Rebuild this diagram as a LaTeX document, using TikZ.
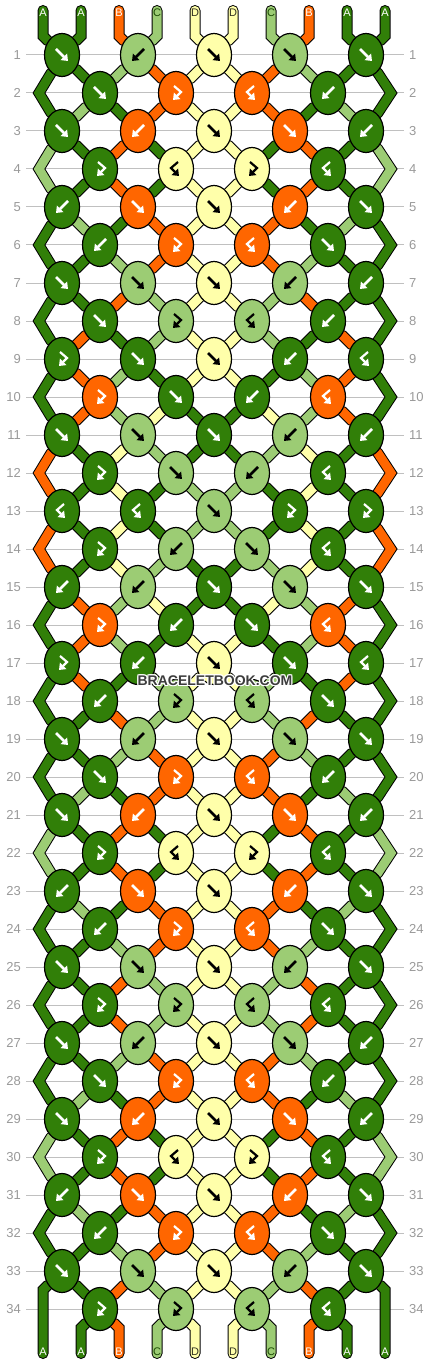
\documentclass[tikz,border=0pt]{standalone}
\usepackage{fontspec}
\setmainfont{Liberation Sans}
\usetikzlibrary{arrows.meta,shapes.geometric,backgrounds}

\definecolor{thrA}{HTML}{317F08}
\definecolor{thrB}{HTML}{FF6600}
\definecolor{thrC}{HTML}{9CCC74}
\definecolor{thrD}{HTML}{FFFFAA}
\definecolor{rowgray}{HTML}{999999}
\definecolor{linegray}{HTML}{C0C0C0}
\definecolor{markgray}{HTML}{3C3C3C}
\colorlet{symA}{white}
\colorlet{symB}{white}
\colorlet{symC}{black}
\colorlet{symD}{black}
\colorlet{labA}{white}
\colorlet{labB}{white}
\colorlet{labC}{thrA!60!black}
\colorlet{labD}{black!80!thrD}

\tikzset{
  knot/.style={ellipse, draw=black, line width=1.2pt, minimum width=35pt, minimum height=43pt, inner sep=0pt},
  strand/.style={draw=black, line width=1pt, double=#1, double distance=9pt, line cap=round, line join=miter},
  arrowline/.style={line width=2.6pt, -{Triangle[length=6pt,width=9pt]}},
  rowline/.style={draw=linegray, line width=1pt},
  rownum/.style={text=rowgray, font=\fontsize{13}{13}\selectfont, inner sep=0pt},
  lab/.style={font=\fontsize{11}{11}\selectfont, inner sep=0pt},
  wmark/.style={font=\bfseries\fontsize{14}{14}\selectfont, inner sep=0pt},
  % knot symbols: forward, backward, forward-backward, backward-forward
  symf/.pic={\draw[arrowline] (-6,-6) -- (6,6);},
  symb/.pic={\draw[arrowline] (6,-6) -- (-6,6);},
  symF/.pic={\draw[arrowline, line join=miter, line width=2.2pt] (-2,-7) -- (5,-1) -- (-3,7);},
  symK/.pic={\draw[arrowline, line join=miter, line width=2.2pt] (2,-7) -- (-5,-1) -- (3,7);}
}

\begin{document}
\begin{tikzpicture}[x=1pt, y=-1pt]
  \useasboundingbox (0,0) rectangle (430,1364);

  % knots, row by row: type/colour
  \foreach \knots [count=\rw] in {
    {f/A,b/C,f/D,f/C,f/A},% 1
    {f/A,F/B,K/B,b/A},
    {f/A,b/B,f/D,f/B,b/A},
    {F/A,K/D,F/D,K/A},
    {b/A,f/B,f/D,b/B,f/A},% 5
    {b/A,F/B,K/B,f/A},
    {f/A,f/C,f/D,b/C,b/A},
    {f/A,F/C,K/C,b/A},
    {F/A,f/A,f/D,b/A,K/A},
    {F/B,f/A,b/A,K/B},% 10
    {f/A,f/C,f/A,b/C,b/A},
    {F/A,f/C,b/C,K/A},
    {K/A,K/A,f/C,F/A,F/A},
    {F/A,b/C,f/C,K/A},
    {b/A,b/C,f/A,f/C,f/A},% 15
    {F/B,b/A,f/A,K/B},
    {F/A,b/A,f/D,f/A,K/A},
    {b/A,F/C,K/C,f/A},
    {f/A,b/C,f/D,f/C,f/A},
    {f/A,F/B,K/B,b/A},% 20
    {f/A,b/B,f/D,f/B,b/A},
    {F/A,K/D,F/D,K/A},
    {b/A,f/B,f/D,b/B,f/A},
    {b/A,F/B,K/B,f/A},
    {f/A,f/C,f/D,b/C,f/A},% 25
    {F/A,F/C,K/C,K/A},
    {f/A,b/C,f/D,f/C,b/A},
    {f/A,F/B,K/B,b/A},
    {f/A,b/B,f/D,f/B,b/A},
    {F/A,K/D,F/D,K/A},% 30
    {b/A,f/B,f/D,b/B,f/A},
    {b/A,F/B,K/B,f/A},
    {f/A,f/C,f/D,b/C,f/A},
    {F/A,F/C,K/C,K/A}% 34
  }{
    \pgfmathtruncatemacro\yy{17+38*\rw}
    \ifodd\rw
      \foreach \kt/\kc [count=\kn] in \knots {
        \node[knot, fill=thr\kc] (k\rw-\kn) at ({76*\kn-14},\yy) {};
        \pic[color=sym\kc] at (k\rw-\kn) {sym\kt};
      }
    \else
      \coordinate (k\rw-0) at (39,\yy);
      \coordinate (k\rw-5) at (391,\yy);
      \foreach \kt/\kc [count=\kn] in \knots {
        \node[knot, fill=thr\kc] (k\rw-\kn) at ({24+76*\kn},\yy) {};
        \pic[color=sym\kc] at (k\rw-\kn) {sym\kt};
      }
    \fi
  }

  \begin{scope}[on background layer]
    % row lines and numbers
    \foreach \rw in {1,...,34}{
      \pgfmathtruncatemacro\yy{17+38*\rw}
      \draw[rowline] (26,\yy) -- (404,\yy);
      \node[rownum, anchor=east] (nl\rw) at (21,\yy) {\rw};
      \node[rownum, anchor=west] (nr\rw) at (409,\yy) {\rw};
    }
    % strings: colours at each position after every row
    \foreach \st [count=\i from 0] in {
      {A,A,B,C,D,D,C,B,A,A},% 0
      {A,A,C,B,D,D,B,C,A,A},
      {A,C,A,B,D,D,B,A,C,A},
      {C,A,B,A,D,D,A,B,A,C},
      {C,A,B,A,D,D,A,B,A,C},
      {A,C,A,B,D,D,B,A,C,A},% 5
      {A,A,C,B,D,D,B,C,A,A},
      {A,A,B,C,D,D,C,B,A,A},
      {A,B,A,C,D,D,C,A,B,A},
      {A,B,C,A,D,D,A,C,B,A},
      {A,B,C,D,A,A,D,C,B,A},% 10
      {B,A,D,C,A,A,C,D,A,B},
      {B,A,D,A,C,C,A,D,A,B},
      {B,A,D,A,C,C,A,D,A,B},
      {B,A,D,C,A,A,C,D,A,B},
      {A,B,C,D,A,A,D,C,B,A},% 15
      {A,B,C,A,D,D,A,C,B,A},
      {A,B,A,C,D,D,C,A,B,A},
      {A,A,B,C,D,D,C,B,A,A},
      {A,A,C,B,D,D,B,C,A,A},
      {A,C,A,B,D,D,B,A,C,A},% 20
      {C,A,B,A,D,D,A,B,A,C},
      {C,A,B,A,D,D,A,B,A,C},
      {A,C,A,B,D,D,B,A,C,A},
      {A,A,C,B,D,D,B,C,A,A},
      {A,A,B,C,D,D,C,B,A,A},% 25
      {A,A,B,C,D,D,C,B,A,A},
      {A,A,C,B,D,D,B,C,A,A},
      {A,C,A,B,D,D,B,A,C,A},
      {C,A,B,A,D,D,A,B,A,C},
      {C,A,B,A,D,D,A,B,A,C},% 30
      {A,C,A,B,D,D,B,A,C,A},
      {A,A,C,B,D,D,B,C,A,A},
      {A,A,B,C,D,D,C,B,A,A},
      {A,A,B,C,D,D,C,B,A,A}% 34
    }{
      \foreach \sc [count=\ps] in \st {
        \pgfmathtruncatemacro\xp{5+38*\ps}
        \pgfmathtruncatemacro\j{\i+1}
        \pgfmathtruncatemacro\ia{mod(\i,2)==1 ? (\ps+1)/2 : \ps/2}
        \pgfmathtruncatemacro\ib{mod(\j,2)==1 ? (\ps+1)/2 : \ps/2}
        \pgfmathtruncatemacro\inner{(\ps>1)&&(\ps<10)}
        \ifnum\i=0
          \coordinate (ta\ps) at (\xp,10.5);
          \coordinate (tb\ps) at (\xp,36);
          \draw[strand=thr\sc] (ta\ps) -- (tb\ps) -- (k1-\ib);
          \node[lab, text=lab\sc] (tl\ps) at (\xp,13) {\sc};
        \else\ifnum\i=34
          \ifnum\inner=1
            \coordinate (ba\ps) at (\xp,1328);
            \coordinate (bb\ps) at (\xp,1353.5);
            \draw[strand=thr\sc] (k34-\ia) -- (ba\ps) -- (bb\ps);
            \node[lab, text=lab\sc] (bl\ps) at (\xp,1352) {\sc};
          \fi
        \else
          \ifnum\inner=1
            \draw[strand=thr\sc] (k\i-\ia) -- (k\j-\ib);
          \else
            \ifodd\i
              \ifnum\i<33
                \pgfmathtruncatemacro\jj{\i+2}
                \draw[strand=thr\sc] (k\i-\ia) -- (k\j-\ib) -- (k\jj-\ia);
              \else
                \coordinate (ba\ps) at (\xp,1290);
                \coordinate (bb\ps) at (\xp,1353.5);
                \draw[strand=thr\sc] (k33-\ia) -- (ba\ps) -- (bb\ps);
                \node[lab, text=lab\sc] (bl\ps) at (\xp,1352) {\sc};
              \fi
            \fi
          \fi
        \fi\fi
      }
    }
  \end{scope}

  % watermark
  \foreach \dx/\dy [count=\h] in {-1/0,1/0,0/-1,0/1,-1/-1,1/1,-1/1,1/-1}
    \node[wmark, text=white] (halo\h) at (215+\dx,681+\dy) {BRACELETBOOK.COM};
  \node[wmark, text=markgray] (mark) at (215,681) {BRACELETBOOK.COM};
\end{tikzpicture}
\end{document}
